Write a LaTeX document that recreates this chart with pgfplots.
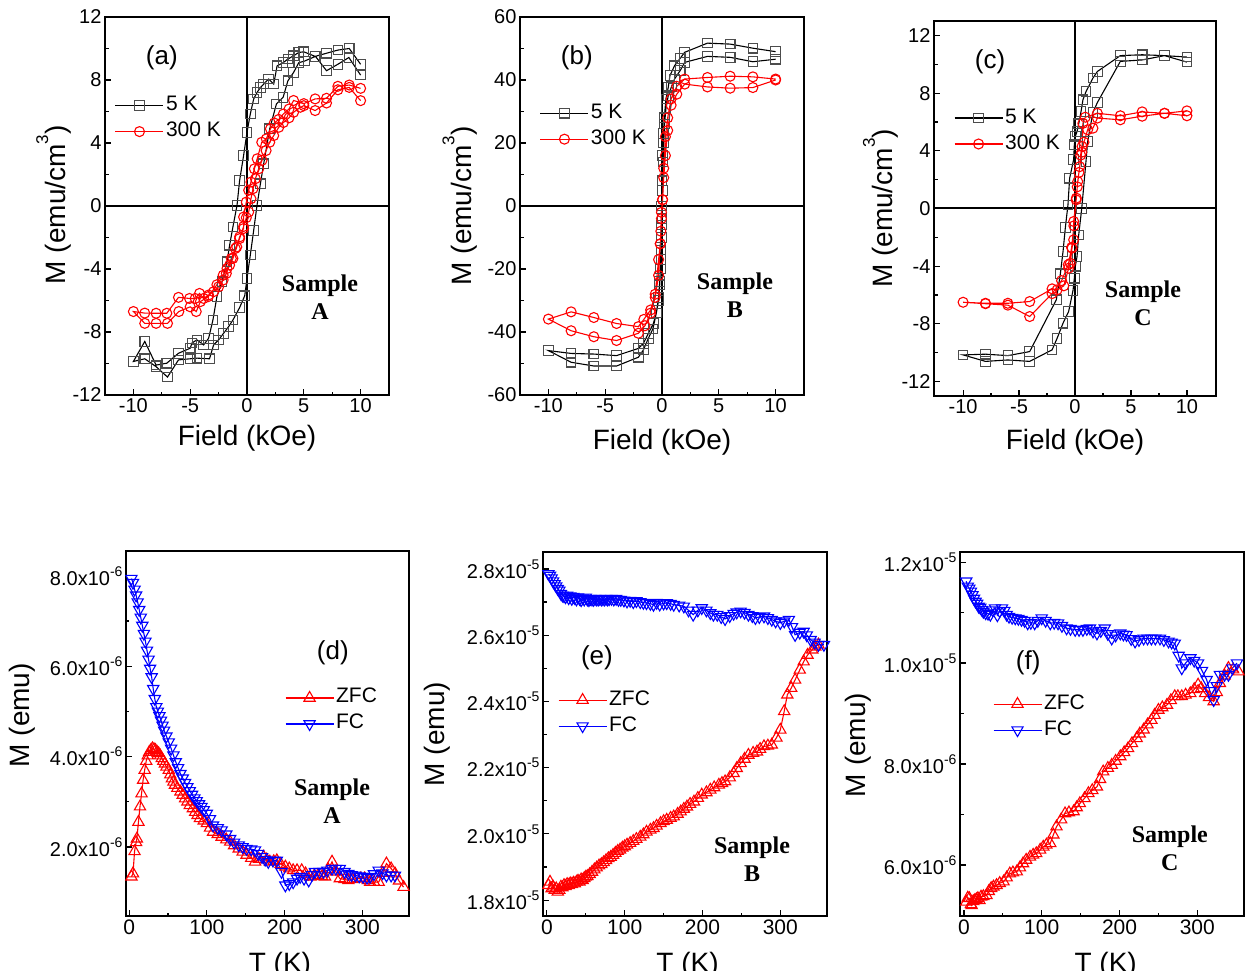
\documentclass[border=0pt]{standalone}
\usepackage{fontspec}
\setmainfont{Liberation Sans}
\newfontfamily\serifbf{Liberation Serif}
\usepackage{pgfplots}
\pgfplotsset{compat=1.18}
\tikzset{smpl/.style={align=center, font=\fontsize{24}{28}\serifbf\bfseries}}
\newcommand{\sci}[2]{#1x10\raisebox{0.45em}{\fontsize{14}{14}\selectfont #2}}
\pgfplotsset{
  base/.style={
    scale only axis,
    axis line style={line width=1.8pt},
    every tick/.style={black, line width=1.2pt},
    major tick length=6pt, minor tick length=3.5pt,
    tick align=inside, xtick pos=bottom, ytick pos=left,
    minor x tick num=1, minor y tick num=1,
    tick label style={font=\fontsize{20}{24}\selectfont},
    label style={font=\fontsize{28}{32}\selectfont},
    legend image code/.code={\draw[mark repeat=2,mark phase=2,##1] plot coordinates {(0pt,0pt) (24pt,0pt) (48pt,0pt)};},
    legend cell align=left,
    legend style={draw=none, fill=none, anchor=north west, inner sep=0pt, outer sep=0pt,
      font=\fontsize{21}{25}\selectfont, nodes={inner sep=2pt, text height=16pt, text depth=6pt}},
  },
  top/.style={base, xmin=-12.5, xmax=12.5,
    xtick={-10,-5,0,5,10}, xticklabels={-10,-5,0,5,10},
    xlabel={Field (kOe)}, ylabel={M (emu/cm{\raisebox{0.62em}{\fontsize{17}{17}\selectfont 3}})}},
  bot/.style={base, xmin=-4, xmax=360,
    xtick={0,100,200,300}, xticklabels={0,100,200,300},
    xticklabel style={font=\fontsize{21}{25}\selectfont},
    yticklabel style={font=\fontsize{20}{24}\selectfont},
    xlabel={T (K)}, ylabel={M (emu)}},
  sq/.style={black, line width=1.1pt, mark=square, mark size=4.8pt, mark options={fill=white, draw=black!70, solid}},
  ci/.style={red, line width=1.1pt, mark=o, mark size=5pt, mark options={fill=white, solid}},
  up/.style={red, line width=1.1pt, mark=triangle, mark size=6.5pt, mark options={solid}},
  dn/.style={blue, line width=1.1pt, mark=triangle, mark size=6.5pt, mark options={solid, rotate=180}},
}
\newcommand{\pl}[1]{\fontsize{26}{30}\selectfont #1}
\begin{document}
\begin{tikzpicture}
\path[use as bounding box] (0,0) rectangle (1255pt,-978pt);
\clip (0,0) rectangle (1255pt,-970pt);
% ---------------- (a)
\begin{axis}[top, at={(105pt,-395pt)}, anchor=south west, width=284pt, height=378pt,
  ymin=-12, ymax=12, ytick={-12,-8,-4,0,4,8,12}, yticklabels={-12,-8,-4,0,4,8,12},
  xlabel style={at={(axis description cs:0.5,-0.114)}, anchor=center},
  ylabel style={at={(axis description cs:-0.18,0.503)}, anchor=center},
  legend style={at={(axis description cs:0.035,0.80)}}]
\draw[line width=1.8pt] (axis cs:0,-12) -- (axis cs:0,12);
\draw[line width=1.8pt] (axis cs:-12.5,0) -- (axis cs:12.5,0);
\addplot[sq] coordinates {(10,9.0)(9,10.0)(8,9.9)(7,9.7)(6,9.5)(5,9.79)(4.56,9.75)(4.1,9.54)(3.6,9.33)(3.18,9.1)(2.65,8.9)(2.35,7.74)(1.9,8.06)(1.47,7.74)(1.18,7.53)(0.88,7.2)(0.59,6.8)(0.29,5.84)(0.0,4.68)(-0.3,3.2)(-0.65,1.62)(-0.88,0.04)(-1.24,-1.33)(-1.53,-2.49)(-1.76,-3.54)(-2.2,-4.81)(-2.65,-5.76)(-3.0,-7.24)(-3.38,-8.4)(-3.82,-8.82)(-4.41,-8.5)(-4.85,-8.7)(-5.0,-9.03)(-6.03,-9.35)(-7.06,-9.98)(-8,-10.1)(-9,-8.6)(-10,-9.87)(-9,-9.7)(-8,-10.2)(-7,-10.86)(-6.03,-9.77)(-5,-9.7)(-4.4,-9.66)(-3.3,-9.7)(-2.94,-8.82)(-2.5,-8.5)(-2.06,-8.08)(-1.62,-7.66)(-1.24,-7.24)(-0.65,-6.45)(-0.2,-5.7)(0,-4.6)(0.29,-3.12)(0.59,-1.54)(0.88,0.04)(1.18,1.41)(1.47,2.68)(2.0,4.9)(2.59,6.48)(3.18,6.9)(3.6,7.95)(4.1,8.48)(4.56,9.1)(5.06,9.2)(6.03,9.5)(7.0,8.59)(8.0,9.0)(8.97,9.43)(10,8.31)};
\addlegendentry{5 K}
\addplot[ci] coordinates {(10,7.47)(9,7.68)(8,7.6)(7,6.84)(6,6.8)(5,6.5)(4.1,6.7)(3.7,6.16)(3.2,5.84)(2.8,5.5)(2.4,5.27)(2.06,4.9)(1.7,4.26)(1.3,4.05)(0.9,3.0)(0.65,2.36)(0.35,1.52)(0.15,1.0)(-0.06,0.25)(-0.3,-0.7)(-0.3,-1.43)(-0.65,-1.96)(-0.9,-2.6)(-1.24,-3.33)(-1.53,-3.75)(-1.82,-4.28)(-2.1,-4.7)(-2.5,-5.13)(-2.94,-5.44)(-3.38,-5.65)(-3.82,-5.87)(-4.18,-5.55)(-4.56,-5.87)(-5.06,-5.87)(-6.03,-5.8)(-7.06,-6.81)(-8,-6.81)(-9,-6.8)(-10,-6.7)(-9,-7.45)(-8,-7.45)(-7,-7.45)(-6,-6.7)(-5,-6.4)(-4.47,-6.7)(-4.1,-6.07)(-3.4,-5.75)(-2.65,-5.0)(-2.1,-4.4)(-1.76,-3.97)(-1.38,-3.33)(-1.03,-2.7)(-0.65,-2.07)(-0.3,-1.3)(-0.06,-0.74)(0.15,-0.38)(0.35,0.46)(0.53,1.1)(0.74,1.73)(1.03,2.36)(1.32,2.9)(1.68,3.52)(2.0,4.05)(2.35,4.47)(2.8,5.0)(3.2,5.3)(3.7,5.6)(4.1,5.95)(4.7,6.27)(5,6.37)(6,6.06)(7,6.54)(8,7.38)(9,7.53)(10,6.69)};
\addlegendentry{300 K}
\node at (rel axis cs:0.2,0.891) {\pl{(a)}};
\node[smpl] at (rel axis cs:0.757,0.259) {Sample\\A};
\end{axis}
% ---------------- (b)
\begin{axis}[top, at={(520pt,-395pt)}, anchor=south west, width=284pt, height=378pt,
  ymin=-60, ymax=60, ytick={-60,-40,-20,0,20,40,60}, yticklabels={-60,-40,-20,0,20,40,60},
  xlabel style={at={(axis description cs:0.5,-0.124)}, anchor=center},
  ylabel style={at={(axis description cs:-0.211,0.5)}, anchor=center},
  legend style={at={(axis description cs:0.07,0.78)}}]
\draw[line width=1.8pt] (axis cs:0,-60) -- (axis cs:0,60);
\draw[line width=1.8pt] (axis cs:-12.5,0) -- (axis cs:12.5,0);
\addplot[sq] coordinates {(10,49.0)(8,50.1)(6,51.4)(4,51.7)(2,48.8)(1.6,46.9)(1.1,44.5)(0.7,41.4)(0.55,37.7)(0.35,34)(0.2,28)(0.12,23)(0.06,16)(0.0,8)(-0.03,0)(-0.06,-6)(-0.1,-14)(-0.15,-20)(-0.2,-25)(-0.3,-30)(-0.5,-34)(-0.76,-37.3)(-1.2,-40.4)(-1.64,-43.6)(-2.08,-45.2)(-4,-47.5)(-6,-47)(-8,-46.8)(-10,-45.9)(-8,-49.6)(-6,-50.8)(-4,-50.8)(-2.08,-48)(-1.64,-45.7)(-1.2,-42)(-0.8,-39)(-0.5,-34)(-0.3,-29)(-0.2,-24)(-0.1,-17)(-0.05,-10)(0.0,-4)(0.05,5)(0.1,14)(0.15,20)(0.22,26)(0.35,31)(0.55,35)(0.85,38)(1.1,40.3)(1.6,43)(2,45.6)(4,47.5)(6,47.2)(8,45.8)(10,46.6)};
\addlegendentry{5 K}
\addplot[ci] coordinates {(10,40.3)(8,41)(6,41.2)(4,40.8)(2,40.3)(1.3,38)(0.8,34)(0.5,28)(0.3,22)(0.15,12)(0.05,2)(-0.05,-2)(-0.1,-8)(-0.15,-12)(-0.3,-17)(-0.6,-28)(-1,-33)(-1.6,-36)(-2.08,-38.3)(-4,-37.3)(-6,-35.4)(-8,-33.6)(-10,-35.9)(-8,-39.6)(-6,-41.5)(-4,-42.7)(-2.08,-40.4)(-1.5,-38)(-1.0,-34)(-0.6,-29)(-0.3,-22)(-0.15,-12)(-0.05,-4)(0.05,2)(0.15,9)(0.3,16)(0.5,24)(0.8,32)(1.3,35.5)(2,38.7)(4,37.8)(6,37.4)(8,37.6)(10,40)};
\addlegendentry{300 K}
\node at (rel axis cs:0.2,0.893) {\pl{(b)}};
\node[smpl] at (rel axis cs:0.757,0.265) {Sample\\B};
\end{axis}
% ---------------- (c)
\begin{axis}[top, at={(934pt,-396pt)}, anchor=south west, width=282pt, height=375pt,
  xmin=-12.6, xmax=12.6,
  ymin=-13, ymax=13, ytick={-12,-8,-4,0,4,8,12}, yticklabels={-12,-8,-4,0,4,8,12},
  xlabel style={at={(axis description cs:0.5,-0.122)}, anchor=center},
  ylabel style={at={(axis description cs:-0.19,0.5)}, anchor=center},
  legend style={at={(axis description cs:0.071,0.776)}}]
\draw[line width=1.8pt] (axis cs:0,-13) -- (axis cs:0,13);
\draw[line width=1.8pt] (axis cs:-12.6,0.02) -- (axis cs:12.6,0.02);
\addplot[sq] coordinates {(10,10.5)(8,10.6)(6,10.66)(4.05,10.6)(2,9.5)(1.6,9.04)(0.98,8.1)(0.71,7.54)(0.54,6.73)(0.33,5.87)(0.18,5.34)(0.03,5.0)(-0.06,4.42)(-0.12,3.4)(-0.48,2.1)(-0.63,0.25)(-0.86,-1.3)(-1.07,-2.98)(-1.31,-4.53)(-1.67,-6.33)(-4.05,-9.92)(-6,-10.2)(-8,-10.1)(-10,-10.15)(-8,-10.6)(-6,-10.5)(-4.05,-10.6)(-2.05,-9.8)(-1.6,-9.0)(-1.07,-7.95)(-0.57,-7.14)(-0.18,-5.69)(-0.06,-4.83)(0.03,-4.0)(0.18,-3.33)(0.33,-1.83)(0.6,0.0)(0.98,3.26)(1.13,4.65)(1.6,6.66)(2.0,7.35)(4.05,10.2)(6,10.3)(8,10.6)(10,10.15)};
\addlegendentry{5 K}
\addplot[ci] coordinates {(10,6.77)(8,6.6)(6,6.7)(4.05,6.43)(2,6.6)(0.92,6.33)(0.7,5.9)(0.63,4.3)(0.5,3.7)(0.42,2.9)(0.24,1.87)(0.12,0.72)(-0.12,-0.9)(-0.12,-2.17)(-0.27,-2.75)(-0.42,-3.8)(-0.57,-4.14)(-1.0,-5.36)(-1.6,-5.64)(-2.05,-5.57)(-4.05,-6.45)(-6,-6.57)(-8,-6.57)(-10,-6.5)(-8,-6.6)(-6,-6.7)(-4.05,-7.49)(-2.05,-5.9)(-1.2,-5.0)(-0.6,-3.9)(-0.3,-2.7)(-0.1,-1.2)(0.1,0.6)(0.2,1.5)(0.35,2.5)(0.6,3.9)(0.8,4.6)(1.13,5.46)(1.6,5.57)(2,6.27)(4.05,6.15)(6,6.4)(8,6.6)(10,6.43)};
\addlegendentry{300 K}
\node at (rel axis cs:0.199,0.891) {\pl{(c)}};
\node[smpl] at (rel axis cs:0.741,0.248) {Sample\\C};
\end{axis}
% ---------------- (d)
\begin{axis}[bot, at={(126pt,-916pt)}, anchor=south west, width=283pt, height=365pt,
  ymin=0.47, ymax=8.55, ytick={2,4,6,8},
  yticklabels={\sci{2.0}{-6},\sci{4.0}{-6},\sci{6.0}{-6},\sci{8.0}{-6}},
  xlabel style={at={(axis description cs:0.544,-0.136)}, anchor=center},
  ylabel style={at={(axis description cs:-0.367,0.55)}, anchor=center},
  legend style={at={(axis description cs:0.562,0.633)}}]
\addplot[up] coordinates {(3,1.34)(5,1.41)(7,1.90)(9,2.10)(10,2.18)(12,2.55)(14,2.89)(16,3.18)(18,3.48)(20,3.70)(22,3.90)(24,4.02)(26,4.10)(28,4.14)(30,4.18)(32,4.16)(34,4.14)(36,4.10)(38,4.07)(40,4.02)(42,3.96)(44,3.90)(46,3.84)(48,3.77)(51,3.70)(53,3.60)(55,3.51)(57,3.44)(59,3.37)(62,3.30)(66,3.22)(69,3.15)(72,3.07)(75,3.00)(78,2.92)(82,2.85)(85,2.77)(88,2.70)(91,2.63)(96,2.58)(100,2.52)(104,2.42)(108,2.33)(114,2.28)(119,2.22)(125,2.16)(130,2.11)(135,2.03)(141,1.96)(146,1.89)(151,1.82)(157,1.75)(162,1.67)(167,1.73)(173,1.78)(177,1.72)(181,1.67)(186,1.68)(190,1.70)(195,1.62)(201,1.56)(206,1.52)(211,1.48)(216,1.48)(222,1.48)(227,1.41)(233,1.34)(238,1.36)(243,1.37)(248,1.35)(252,1.34)(256,1.50)(261,1.67)(266,1.45)(271,1.30)(277,1.28)(282,1.26)(287,1.28)(293,1.30)(298,1.30)(303,1.30)(307,1.26)(310,1.22)(315,1.22)(321,1.22)(326,1.42)(331,1.63)(337,1.52)(342,1.41)(347,1.25)(353,1.11)};
\addlegendentry{ZFC}
\addplot[dn] coordinates {(3,7.94)(5,7.85)(7,7.70)(9,7.57)(11,7.42)(13,7.25)(15,7.08)(17,6.90)(19,6.72)(21,6.55)(23,6.35)(25,6.15)(27,5.95)(29,5.76)(31,5.50)(33,5.28)(35,5.10)(37,5.00)(39,4.90)(41,4.80)(43,4.69)(45,4.58)(48,4.45)(51,4.32)(54,4.18)(57,4.03)(60,3.88)(63,3.75)(66,3.62)(69,3.52)(72,3.42)(75,3.33)(78,3.24)(81,3.16)(84,3.08)(87,3.02)(90,2.95)(93,2.89)(96,2.82)(100,2.74)(104,2.62)(108,2.48)(114,2.42)(119,2.37)(125,2.28)(130,2.18)(135,2.10)(141,2.04)(146,2.00)(151,1.96)(157,1.95)(162,1.93)(166,1.85)(171,1.78)(175,1.72)(179,1.67)(185,1.70)(190,1.70)(196,1.45)(201,1.15)(206,1.18)(211,1.22)(216,1.30)(220,1.34)(225,1.30)(231,1.26)(235,1.38)(239,1.45)(245,1.45)(250,1.45)(255,1.48)(261,1.52)(266,1.52)(271,1.52)(277,1.45)(282,1.41)(286,1.38)(291,1.37)(296,1.35)(301,1.34)(306,1.32)(310,1.34)(315,1.40)(321,1.48)(326,1.42)(331,1.37)(337,1.37)(342,1.37)};
\addlegendentry{FC}
\node at (rel axis cs:0.731,0.72) {\pl{(d)}};
\node[smpl] at (rel axis cs:0.728,0.315) {Sample\\A};
\end{axis}
% ---------------- (e)
\begin{axis}[bot, at={(543pt,-916pt)}, anchor=south west, width=284pt, height=364pt,
  xmin=-5, xmax=360,
  ymin=17.52, ymax=28.51, ytick={18,20,22,24,26,28},
  yticklabels={\sci{1.8}{-5},\sci{2.0}{-5},\sci{2.2}{-5},\sci{2.4}{-5},\sci{2.6}{-5},\sci{2.8}{-5}},
  xlabel style={at={(axis description cs:0.509,-0.136)}, anchor=center},
  ylabel style={at={(axis description cs:-0.373,0.5)}, anchor=center},
  legend style={at={(axis description cs:0.053,0.629)}}]
\addplot[up] coordinates {(2,18.45)(4,18.55)(6,18.35)(8,18.40)(10,18.30)(12,18.35)(14,18.25)(16,18.30)(18,18.40)(20,18.38)(22,18.45)(24,18.42)(26,18.48)(28,18.45)(30,18.50)(32,18.48)(34,18.52)(36,18.50)(38,18.55)(40,18.58)(42,18.55)(44,18.62)(46,18.60)(48,18.66)(50,18.70)(52,18.72)(55,18.78)(58,18.85)(61,18.92)(64,18.98)(67,19.04)(70,19.08)(73,19.14)(76,19.20)(79,19.26)(82,19.30)(85,19.36)(88,19.42)(91,19.48)(94,19.52)(97,19.58)(100,19.62)(103,19.67)(107,19.72)(111,19.78)(115,19.84)(120,19.91)(124,19.98)(128,20.06)(133,20.12)(137,20.17)(141,20.24)(146,20.32)(150,20.38)(154,20.42)(159,20.48)(163,20.52)(168,20.60)(172,20.67)(176,20.75)(180,20.82)(184,20.90)(189,20.97)(194,21.08)(199,21.18)(205,21.25)(210,21.33)(215,21.40)(221,21.48)(225,21.53)(229,21.58)(235,21.70)(240,21.83)(244,21.98)(249,22.13)(254,22.26)(259,22.38)(265,22.44)(270,22.48)(274,22.56)(279,22.64)(284,22.66)(289,22.69)(295,22.90)(300,23.14)(305,23.70)(309,24.20)(314,24.40)(319,24.65)(325,24.95)(330,25.20)(335,25.40)(341,25.56)(345,25.65)(349,25.71)};
\addlegendentry{ZFC}
\addplot[dn] coordinates {(2,27.85)(4,27.80)(6,27.72)(8,27.63)(10,27.55)(12,27.48)(14,27.40)(16,27.35)(18,27.25)(20,27.20)(22,27.18)(24,27.15)(26,27.20)(28,27.12)(30,27.18)(32,27.10)(34,27.16)(36,27.12)(38,27.08)(40,27.15)(42,27.10)(44,27.06)(46,27.12)(48,27.08)(50,27.14)(52,27.08)(54,27.06)(56,27.10)(58,27.08)(60,27.07)(62,27.10)(64,27.08)(66,27.08)(68,27.10)(70,27.08)(72,27.09)(74,27.08)(76,27.10)(78,27.08)(80,27.09)(83,27.10)(86,27.08)(89,27.10)(92,27.07)(95,27.07)(99,27.05)(103,27.02)(107,27.04)(111,27.00)(115,27.03)(120,27.00)(124,26.98)(128,26.97)(133,26.95)(137,26.92)(141,26.98)(145,26.93)(150,26.96)(154,26.97)(159,26.95)(163,26.92)(170,26.90)(176,26.87)(182,26.75)(188,26.62)(194,26.75)(199,26.82)(205,26.75)(210,26.67)(214,26.62)(219,26.62)(224,26.55)(229,26.49)(235,26.58)(240,26.65)(244,26.69)(249,26.72)(254,26.68)(259,26.62)(264,26.58)(268,26.52)(273,26.55)(279,26.57)(284,26.52)(289,26.47)(294,26.42)(300,26.37)(305,26.42)(311,26.47)(315,26.25)(319,26.01)(325,26.08)(330,26.11)(334,26.00)(339,25.86)(344,25.78)(349,25.71)(356,25.71)};
\addlegendentry{FC}
\node at (rel axis cs:0.19,0.71) {\pl{(e)}};
\node[smpl] at (rel axis cs:0.736,0.157) {Sample\\B};
\end{axis}
% ---------------- (f)
\begin{axis}[bot, at={(960pt,-916pt)}, anchor=south west, width=284pt, height=364pt,
  xmin=-5, xmax=360,
  ymin=4.99, ymax=12.2, ytick={6,8,10,12},
  yticklabels={\sci{6.0}{-6},\sci{8.0}{-6},\sci{1.0}{-5},\sci{1.2}{-5}},
  xlabel style={at={(axis description cs:0.513,-0.136)}, anchor=center},
  ylabel style={at={(axis description cs:-0.36,0.47)}, anchor=center},
  legend style={at={(axis description cs:0.116,0.618)}}]
\addplot[up] coordinates {(3,5.27)(5,5.35)(7,5.34)(9,5.22)(10,5.20)(12,5.28)(14,5.30)(16,5.32)(18,5.34)(20,5.30)(22,5.37)(25,5.38)(29,5.40)(32,5.48)(35,5.54)(38,5.57)(42,5.60)(46,5.64)(51,5.67)(55,5.75)(59,5.83)(63,5.85)(68,5.87)(72,5.95)(76,6.03)(80,6.10)(85,6.16)(89,6.20)(93,6.23)(98,6.30)(102,6.36)(106,6.40)(111,6.43)(115,6.60)(119,6.76)(125,6.90)(130,7.02)(135,7.04)(141,7.06)(145,7.14)(149,7.22)(155,7.32)(160,7.42)(165,7.48)(171,7.55)(175,7.70)(179,7.85)(185,7.92)(190,7.98)(195,8.06)(201,8.15)(206,8.23)(211,8.31)(216,8.41)(222,8.51)(226,8.60)(231,8.68)(236,8.78)(241,8.87)(245,8.97)(250,9.07)(255,9.12)(261,9.17)(266,9.26)(271,9.34)(275,9.34)(280,9.34)(285,9.37)(291,9.40)(296,9.48)(301,9.57)(305,9.50)(310,9.40)(315,9.32)(321,9.24)(325,9.42)(329,9.60)(335,9.75)(340,9.90)(346,9.87)(353,9.83)};
\addlegendentry{ZFC}
\addplot[dn] coordinates {(3,11.62)(5,11.52)(7,11.48)(9,11.42)(11,11.35)(13,11.28)(15,11.22)(17,11.18)(19,11.12)(21,11.10)(23,11.06)(25,11.02)(28,10.99)(31,10.98)(34,10.96)(37,11.05)(40,11.09)(43,10.95)(46,11.03)(49,11.09)(52,11.04)(55,10.96)(58,10.92)(62,10.90)(66,10.89)(70,10.88)(74,10.86)(78,10.84)(82,10.79)(86,10.80)(91,10.79)(95,10.84)(100,10.89)(105,10.84)(111,10.79)(116,10.80)(121,10.79)(126,10.74)(132,10.69)(137,10.68)(143,10.66)(148,10.66)(153,10.66)(158,10.68)(162,10.69)(166,10.63)(171,10.59)(176,10.64)(181,10.69)(185,10.58)(190,10.49)(195,10.55)(201,10.59)(205,10.57)(209,10.56)(215,10.48)(220,10.43)(225,10.46)(231,10.49)(236,10.49)(241,10.49)(246,10.49)(252,10.49)(257,10.46)(263,10.43)(267,10.41)(271,10.39)(276,10.15)(280,9.90)(285,10.00)(291,10.10)(296,10.05)(301,10.00)(306,9.85)(312,9.67)(316,9.45)(321,9.27)(325,9.55)(329,9.77)(335,9.77)(340,9.77)(345,9.90)(351,10.00)};
\addlegendentry{FC}
\node at (rel axis cs:0.24,0.695) {\pl{(f)}};
\node[smpl] at (rel axis cs:0.739,0.187) {Sample\\C};
\end{axis}
\end{tikzpicture}
\end{document}
